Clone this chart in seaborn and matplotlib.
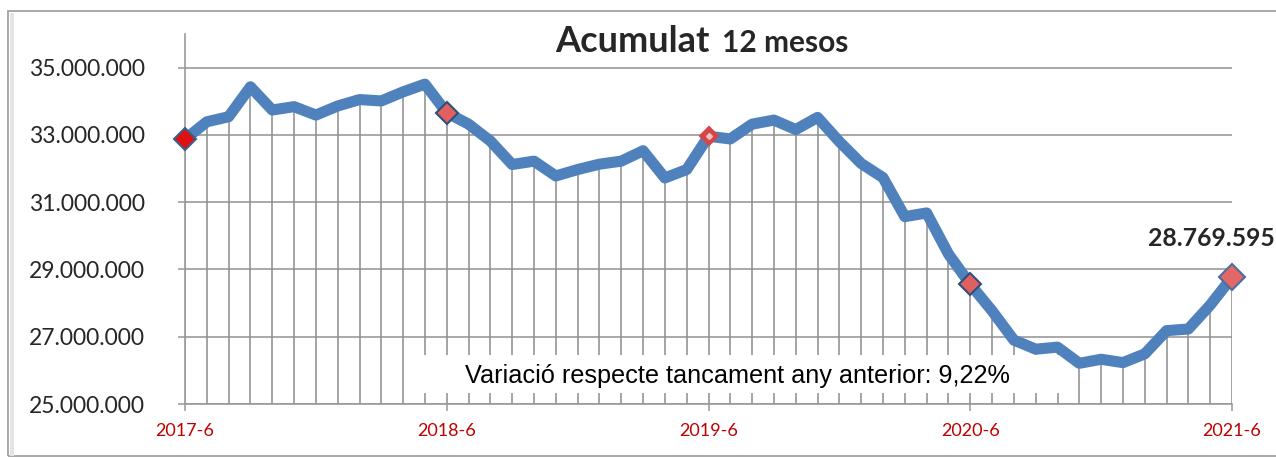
import numpy as np
import pandas as pd
import matplotlib
matplotlib.use("Agg")
import matplotlib.pyplot as plt
import matplotlib.patches as mpatches
import seaborn as sns

# monthly 12-month accumulated values, 2017-6 .. 2021-6 (millions)
values_m = [32.87, 33.39, 33.54, 34.43, 33.74, 33.84, 33.59, 33.86, 34.05, 34.01, 34.28, 34.51,
            33.66, 33.32, 32.82, 32.12, 32.22, 31.78, 31.97, 32.13, 32.22, 32.53, 31.72, 31.97,
            32.96, 32.88, 33.32, 33.44, 33.16, 33.52, 32.80, 32.15, 31.73, 30.57, 30.68, 29.46,
            28.56, 27.77, 26.90, 26.63, 26.69, 26.21, 26.33, 26.23, 26.49, 27.18, 27.23, 27.94,
            28.769595]
tick_labels = ["2017-6", "2018-6", "2019-6", "2020-6", "2021-6"]
yticks = [25e6, 27e6, 29e6, 31e6, 33e6, 35e6]
last_label = "28.769.595"
note = "Variació respecte tancament any anterior: 9,22%"

df = pd.DataFrame({"idx": np.arange(len(values_m)), "val": np.array(values_m) * 1e6})
june = df[df["idx"] % 12 == 0]

sns.set_style("white")
plt.rcParams["font.family"] = ["Lato", "DejaVu Sans"]

W, H = 1276, 457
fig = plt.figure(figsize=(W / 100, H / 100), dpi=100)
fig.patch.set_facecolor("white")

# chart frame
fig.patches.append(mpatches.Rectangle((8 / W, 1 / H), 1.2, (455 - 10) / H, transform=fig.transFigure,
                                      fill=False, edgecolor="#a8a8a8", lw=1.4, zorder=0))
fig.patches.append(mpatches.Rectangle((10 / W, 1 / H), 4 / W, (455 - 12) / H, transform=fig.transFigure,
                                      facecolor="#e4e4e4", edgecolor="none", zorder=0))

ax = fig.add_axes([185 / W, 1 - 404 / H, (1232 - 185) / W, (404 - 34) / H])
ax.set_xlim(0, 48)
ax.set_ylim(25e6, 36e6)

# horizontal grid
for yv in yticks:
    ax.axhline(yv, color="#999999", lw=1.2, zorder=1)

# drop lines
ax.vlines(df["idx"], 25e6, df["val"], color="#8c8c8c", lw=1.1, zorder=1)

# note box
ax.add_patch(mpatches.Rectangle((0.217, 0.03), 0.6235, 0.102, transform=ax.transAxes,
                                facecolor="white", edgecolor="none", zorder=2))
ax.text(0.528, 0.0576, note, transform=ax.transAxes, ha="center", va="baseline",
        fontsize=18.2, family=["Liberation Sans", "DejaVu Sans"], color="black", zorder=3)

sns.lineplot(data=df, x="idx", y="val", ax=ax, color="#4f81bd", lw=8, zorder=4,
             solid_joinstyle="round", solid_capstyle="butt")

fills = ["#e01010", "#e06060", "#d24848", "#e06060", "#e26868"]
edges = ["#3d5f8c", "#2f4f7a", "#d24848", "#2f4f7a", "#4a6fa0"]
inner = [None, None, "#f3c0c0", None, None]
sizes = [11, 11, 9, 11, 13]
for (i, row), fc, ec, ms, cc in zip(june.iterrows(), fills, edges, sizes, inner):
    ax.plot(row["idx"], row["val"], marker="D", ms=ms, mfc=fc, mec=ec, mew=1.5,
            zorder=5, clip_on=False)
    if cc:
        ax.plot(row["idx"], row["val"], marker="D", ms=3, mfc=cc, mec=cc, zorder=6, clip_on=False)

ax.annotate(last_label, (june["idx"].iloc[-1], june["val"].iloc[-1]), xytext=(-84, 31),
            textcoords="offset pixels", ha="left", va="baseline", fontsize=17.8, fontweight="bold",
            annotation_clip=False)

ax.set_yticks(yticks)
ax.set_yticklabels([f"{v:,.0f}".replace(",", ".") for v in yticks], fontsize=16.5)
ax.set_xticks(june["idx"])
ax.set_xticklabels(tick_labels, fontsize=13, color="#c00000")
ax.tick_params(axis="y", length=5, width=1.1, color="#999999", pad=24, left=True)
ax.tick_params(axis="x", length=5, width=1.1, color="#999999", pad=9, bottom=True)
ax.set_xlabel("")
ax.set_ylabel("")

for s in ["top", "right"]:
    ax.spines[s].set_visible(False)
ax.spines["left"].set_color("#999999")
ax.spines["bottom"].set_color("#999999")
ax.spines["left"].set_linewidth(1.2)
ax.spines["bottom"].set_linewidth(1.2)

# title: two sizes
fig.text(555 / W, 1 - 52 / H, "Acumulat", fontsize=26, fontweight="bold", va="baseline", ha="left")
fig.text(722 / W, 1 - 52 / H, "12 mesos", fontsize=21.5, fontweight="bold", va="baseline", ha="left")

fig.savefig("out.png", dpi=100)
